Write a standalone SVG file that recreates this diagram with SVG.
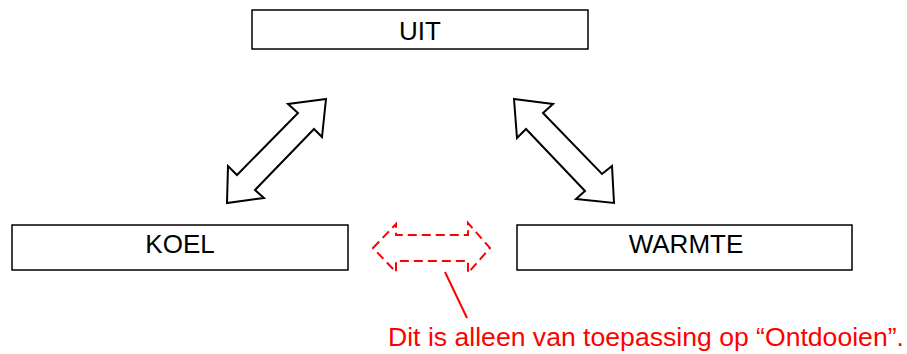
<svg xmlns="http://www.w3.org/2000/svg" width="907" height="354" viewBox="0 0 907 354">
<style>
.box{fill:#fff;stroke:#000;stroke-width:1.5}
.lbl{font-family:"Liberation Sans",Arial,sans-serif;font-size:26px;fill:#000;text-anchor:middle}
.arr{fill:#fff;stroke:#000;stroke-width:2;stroke-linejoin:miter}
.dash{fill:none;stroke:#f00;stroke-width:2;stroke-dasharray:9,5}
.note{font-family:"Liberation Sans",Arial,sans-serif;font-size:26.6px;fill:#f00}
</style>
<rect width="907" height="354" fill="#fff"/>
<g id="uit"><rect class="box" x="252" y="10" width="336" height="39"/><text class="lbl" x="420" y="40">UIT</text></g>
<g id="koel"><rect class="box" x="12" y="225" width="336" height="45"/><text class="lbl" x="180" y="253">KOEL</text></g>
<g id="warmte"><rect class="box" x="517" y="225" width="335" height="45"/><text class="lbl" x="686" y="253">WARMTE</text></g>
<g id="connectors">
<polygon class="arr" points="326,99 288,104 298,113 237,175 228,166 227,203 264,198 255,190 314,129 322,137"/>
<polygon class="arr" points="514,99 553,104 543,113 602,174 612,166 614,203 576,199 585,191 526,129 517,138"/>
<polygon class="dash" points="373,248 396,224 396,235 468,235 468,223 490,248 468,273 468,261 396,261 396,272"/>
<line x1="445" y1="272" x2="467" y2="318" stroke="#f00" stroke-width="2"/>
</g>
<text class="note" x="388" y="346">Dit is alleen van toepassing op “Ontdooien”.</text>
</svg>
